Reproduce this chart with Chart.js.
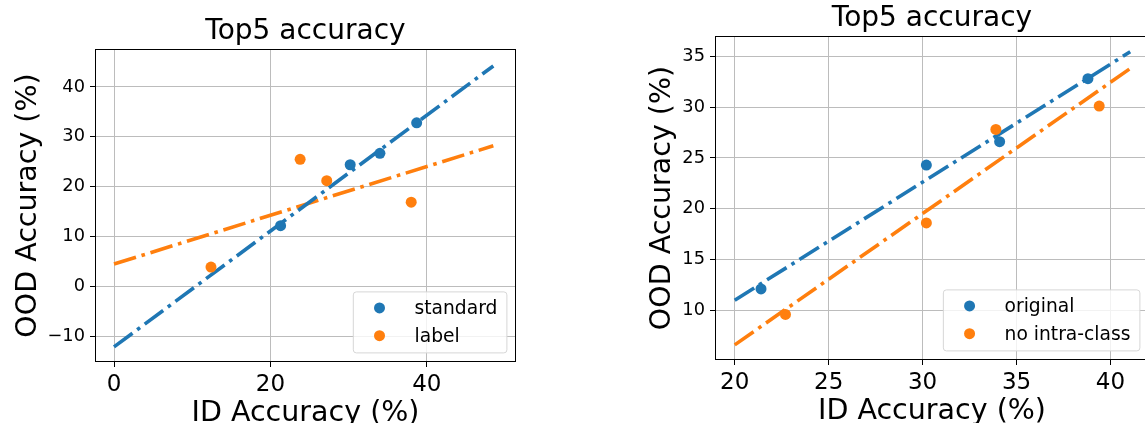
<!DOCTYPE html>
<html lang="en">
<head>
<meta charset="UTF-8">
<title>Top5 accuracy</title>
<style>
  html, body { margin: 0; padding: 0; background: #fff; overflow: hidden; }
  #wrap { position: relative; width: 1145px; height: 423px; overflow: hidden; }
  canvas { position: absolute; top: 0; }
  #left { left: 0; }
  #right { left: 572px; }
</style>
</head>
<body>
<div id="wrap">
  <canvas id="left" width="572" height="423"></canvas>
  <canvas id="right" width="590" height="423"></canvas>
</div>
<script src="https://cdn.jsdelivr.net/npm/chart.js@4"></script>
<script>
// left panel: standard vs label
const leftStandardX = [21.3, 30.2, 34.0, 38.7];
const leftStandardY = [12.2, 24.4, 26.7, 32.8];
const leftLabelX = [12.4, 23.8, 27.2, 38.0];
const leftLabelY = [3.9, 25.5, 21.2, 16.9];
const leftStandardFitX = [0, 48.5];
const leftStandardFitY = [-12.1, 44.2];
const leftLabelFitX = [0, 48.5];
const leftLabelFitY = [4.5, 28.2];
const leftXTicks = [0, 20, 40];
const leftYTicks = [-10, 0, 10, 20, 30, 40];

// right panel: original vs no intra-class
const rightOriginalX = [21.4, 30.2, 34.1, 38.8];
const rightOriginalY = [12.1, 24.3, 26.6, 32.8];
const rightNoIntraX = [22.7, 30.2, 33.9, 39.4];
const rightNoIntraY = [9.6, 18.6, 27.8, 30.1];
const rightOriginalFitX = [20, 41.05];
const rightOriginalFitY = [11.0, 35.45];
const rightNoIntraFitX = [20, 41.05];
const rightNoIntraFitY = [6.6, 33.8];
const rightXTicks = [20, 25, 30, 35, 40];
const rightYTicks = [10, 15, 20, 25, 30, 35];

const FONT = '"DejaVu Sans", sans-serif';
const BLUE = '#1f77b4';
const ORANGE = '#ff7f0e';
const GRID = '#bcbcbc';
const DASH = [23, 5.8, 3.6, 5.8];

const pts = (xs, ys) => xs.map((x, i) => ({x: x, y: ys[i]}));
const fmt = v => String(v).replace('-', '\u2212');

// frame, title, axis labels and the boxed legend
const panelText = {
	id: 'panelText',
	afterDraw(chart, args, o) {
		const ctx = chart.ctx, a = chart.chartArea;
		ctx.save();
		ctx.strokeStyle = '#000';
		ctx.lineWidth = 1;
		ctx.strokeRect(a.left + 0.5, a.top + 0.5, a.right - a.left - 1, a.bottom - a.top - 1);

		ctx.fillStyle = '#000';
		ctx.textAlign = 'center';
		ctx.textBaseline = 'alphabetic';
		const cx = (a.left + a.right) / 2, cy = (a.top + a.bottom) / 2;
		ctx.font = '28px ' + FONT;
		ctx.fillText(o.title, cx, a.top - 9.7);
		ctx.font = '28.5px ' + FONT;
		ctx.fillText(o.xLabel, cx, a.bottom + 59);
		ctx.save();
		ctx.translate(a.left - o.yGap, cy);
		ctx.rotate(-Math.PI / 2);
		ctx.fillText(o.yLabel, 0, 0);
		ctx.restore();

		// legend, lower right
		ctx.font = '18.7px ' + FONT;
		const tw = Math.max(...o.items.map(it => ctx.measureText(it.label).width));
		const w = 61.7 + tw + 9, h = 61;
		const right = a.right - 9.6, bottom = a.bottom - 9.6, left = right - w, top = bottom - h;
		ctx.beginPath();
		ctx.roundRect(left + 0.5, top + 0.5, w, h, 3);
		ctx.fillStyle = 'rgba(255,255,255,0.8)';
		ctx.fill();
		ctx.strokeStyle = '#d6d6d6';
		ctx.stroke();
		const rows = [bottom - 44.5, bottom - 16.7];
		o.items.forEach((it, i) => {
			ctx.fillStyle = it.color;
			ctx.beginPath();
			ctx.arc(left + 26.7, rows[i], 5.5, 0, Math.PI * 2);
			ctx.fill();
			ctx.fillStyle = '#000';
			ctx.textAlign = 'left';
			ctx.fillText(it.label, left + 61.7, rows[i] + 6.5);
		});
		ctx.restore();
	}
};

function scatterSet(xs, ys, color) {
	return {data: pts(xs, ys), backgroundColor: color, borderColor: color, pointRadius: 5.5, pointBorderWidth: 0, pointHoverRadius: 5.5};
}
function fitSet(xs, ys, color) {
	return {type: 'line', data: pts(xs, ys), showLine: true, borderColor: color, borderWidth: 3.6,
		borderDash: DASH, borderCapStyle: 'butt', pointRadius: 0, fill: false};
}

function axis(min, max, tickVals, size, pad, fitFn) {
	return {
		type: 'linear', min: min, max: max,
		afterBuildTicks: s => { s.ticks = tickVals.map(v => ({value: v})); },
		afterFit: fitFn,
		border: {display: false},
		grid: {color: GRID, lineWidth: 1, tickLength: 5, tickColor: '#000', tickWidth: 1},
		ticks: {font: {family: FONT, size: size}, color: '#000', padding: pad, autoSkip: false, maxRotation: 0, callback: fmt}
	};
}

function makeChart(id, c) {
	return new Chart(id, {
		type: 'scatter',
		data: {
			datasets: [
				scatterSet(c.aX, c.aY, BLUE),
				scatterSet(c.bX, c.bY, ORANGE),
				fitSet(c.aFitX, c.aFitY, BLUE),
				fitSet(c.bFitX, c.bFitY, ORANGE)
			]
		},
		options: {
			responsive: false,
			animation: false,
			devicePixelRatio: 1,
			events: [],
			layout: {padding: c.padding},
			scales: {
				x: axis(c.xMin, c.xMax, c.xTicks, 23, 4, s => { s.height = c.xHeight; }),
				y: axis(c.yMin, c.yMax, c.yTicks, 17.8, 5, s => { s.width = c.yWidth; })
			},
			plugins: {
				legend: {display: false},
				tooltip: {enabled: false},
				panelText: {title: 'Top5 accuracy', xLabel: 'ID Accuracy (%)', yLabel: 'OOD Accuracy (%)',
					yGap: c.yGap, items: c.items}
			}
		},
		plugins: [panelText]
	});
}

makeChart('left', {
	aX: leftStandardX, aY: leftStandardY, bX: leftLabelX, bY: leftLabelY,
	aFitX: leftStandardFitX, aFitY: leftStandardFitY, bFitX: leftLabelFitX, bFitY: leftLabelFitY,
	xMin: -2.43, xMax: 51.4, yMin: -15.13, yMax: 47.6,
	xTicks: leftXTicks, yTicks: leftYTicks,
	padding: {left: 0, top: 49, right: 56, bottom: 0},
	xHeight: 61, yWidth: 95, yGap: 59.5,
	items: [{label: 'standard', color: BLUE}, {label: 'label', color: ORANGE}]
});

makeChart('right', {
	aX: rightOriginalX, aY: rightOriginalY, bX: rightNoIntraX, bY: rightNoIntraY,
	aFitX: rightOriginalFitX, aFitY: rightOriginalFitY, bFitX: rightNoIntraFitX, bFitY: rightNoIntraFitY,
	xMin: 18.95, xMax: 42.05, yMin: 5.11, yMax: 37.0,
	xTicks: rightXTicks, yTicks: rightYTicks,
	padding: {left: 0, top: 36, right: 13, bottom: 0},
	xHeight: 63, yWidth: 143, yGap: 45.5,
	items: [{label: 'original', color: BLUE}, {label: 'no intra-class', color: ORANGE}]
});
</script>
</body>
</html>
